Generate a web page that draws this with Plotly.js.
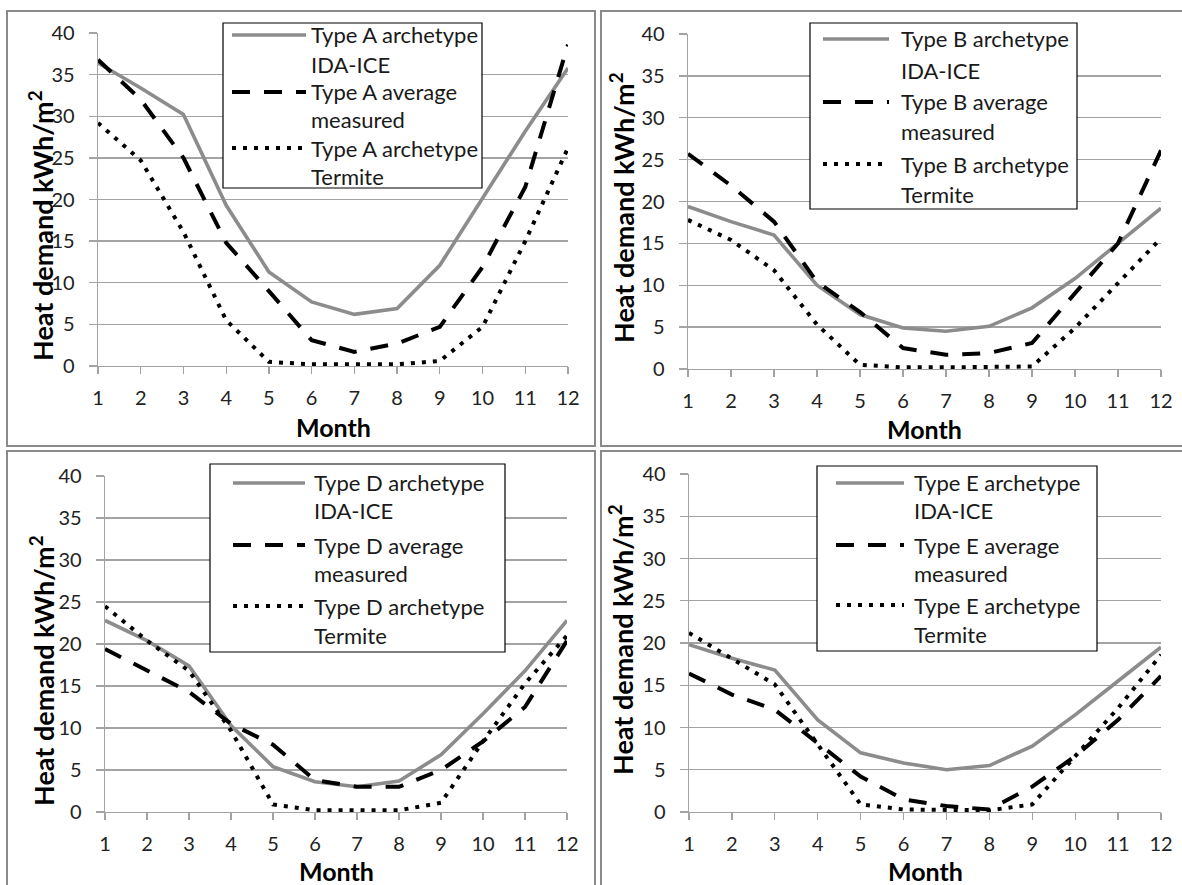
<!DOCTYPE html>
<html>
<head>
<meta charset="utf-8">
<script src="https://cdn.plot.ly/plotly-3.0.1.min.js"></script>
<style>
html,body{margin:0;padding:0;background:#ffffff;}
#chart{width:1182px;height:885px;}
</style>
</head>
<body>
<div id="chart"></div>
<script>
// ---------- data ----------
const months = [1, 2, 3, 4, 5, 6, 7, 8, 9, 10, 11, 12];
const xTickLabels = ['1', '2', '3', '4', '5', '6', '7', '8', '9', '10', '11', '12'];
const yTickValues = [0, 5, 10, 15, 20, 25, 30, 35, 40];

const typeA_idaIce   = [36.4, 33.4, 30.2, 19.3, 11.3, 7.7, 6.2, 6.9, 12.1, 20.1, 28.2, 35.8];
const typeA_measured = [36.8, 32.0, 25.0, 14.8, 9.0, 3.1, 1.7, 2.7, 4.7, 11.9, 21.5, 38.6];
const typeA_termite  = [29.2, 24.7, 16.1, 5.5, 0.5, 0.2, 0.2, 0.2, 0.6, 4.7, 15.0, 26.2];

const typeB_idaIce   = [19.4, 17.6, 16.0, 10.0, 6.5, 4.9, 4.5, 5.1, 7.3, 10.8, 15.0, 19.2];
const typeB_measured = [25.7, 21.9, 17.6, 10.4, 6.8, 2.5, 1.7, 1.9, 3.1, 9.0, 15.0, 26.1];
const typeB_termite  = [17.8, 15.4, 11.8, 5.3, 0.5, 0.2, 0.2, 0.2, 0.3, 4.9, 10.2, 15.6];

const typeD_idaIce   = [22.8, 20.4, 17.4, 10.3, 5.4, 3.6, 3.0, 3.7, 6.8, 11.7, 16.8, 22.8];
const typeD_measured = [19.4, 16.8, 14.3, 10.5, 8.0, 3.8, 3.0, 3.0, 5.0, 8.4, 12.5, 20.4];
const typeD_termite  = [24.5, 20.4, 16.8, 9.7, 0.9, 0.2, 0.2, 0.2, 1.1, 8.4, 15.3, 21.0];

const typeE_idaIce   = [19.8, 18.2, 16.8, 10.9, 7.0, 5.8, 5.0, 5.5, 7.8, 11.5, 15.5, 19.5];
const typeE_measured = [16.4, 13.9, 12.1, 8.2, 4.2, 1.5, 0.7, 0.3, 3.0, 6.6, 10.9, 16.1];
const typeE_termite  = [21.2, 18.2, 15.1, 8.0, 0.9, 0.3, 0.2, 0.2, 0.9, 6.6, 12.3, 18.6];

const legendA = ['Type A archetype', 'IDA-ICE', 'Type A average', 'measured', 'Type A archetype', 'Termite'];
const legendB = ['Type B archetype', 'IDA-ICE', 'Type B average', 'measured', 'Type B archetype', 'Termite'];
const legendD = ['Type D archetype', 'IDA-ICE', 'Type D average', 'measured', 'Type D archetype', 'Termite'];
const legendE = ['Type E archetype', 'IDA-ICE', 'Type E average', 'measured', 'Type E archetype', 'Termite'];

const xTitle = 'Month';
const yTitle = 'Heat demand kWh/m<sup>2</sup>';

// ---------- layout helpers ----------
const W = 1182, H = 885;
const px = x => x / W;
const py = y => 1 - y / H;

const styles = [
  {color: '#8c8c8c', width: 3.6, dash: 'solid'},
  {color: '#000000', width: 4, dash: '18px,14px'},
  {color: '#000000', width: 4, dash: '4px,7px'}
];

const panels = [
  {data: [typeA_idaIce, typeA_measured, typeA_termite], names: legendA,
   plot: {l: 98, r: 568, t: 33, b: 366}, border: [7, 11, 595, 446],
   leg: {l: 223, t: 23, r: 482, b: 188, s0: 232, s1: 306, tx: 309, rows: [35, 64, 92, 120, 148, 177]},
   ytitle: [41, 226], month: [333, 427]},
  {data: [typeB_idaIce, typeB_measured, typeB_termite], names: legendB,
   plot: {l: 688, r: 1161, t: 34, b: 369}, border: [601, 11, 1195, 446],
   leg: {l: 810, t: 23, r: 1077, b: 209, s0: 823, s1: 889, tx: 899, rows: [39, 70, 102, 131, 164, 195]},
   ytitle: [622, 207], month: [924, 429]},
  {data: [typeD_idaIce, typeD_measured, typeD_termite], names: legendD,
   plot: {l: 105, r: 567, t: 476, b: 812}, border: [7, 451, 595, 895],
   leg: {l: 210, t: 464, r: 505, b: 652, s0: 233, s1: 305, tx: 312, rows: [483, 511, 545, 573, 606, 635]},
   ytitle: [42, 671], month: [336, 871]},
  {data: [typeE_idaIce, typeE_measured, typeE_termite], names: legendE,
   plot: {l: 689, r: 1161, t: 474, b: 812}, border: [601, 451, 1195, 895],
   leg: {l: 817, t: 466, r: 1097, b: 651, s0: 836, s1: 904, tx: 912, rows: [483, 511, 545, 573, 605, 634]},
   ytitle: [621, 640], month: [925, 871]}
];

const FONT = 'Lato, "Open Sans", sans-serif';
const gridCol = '#a3a3a3';
const traces = [];
const shapes = [];
const annotations = [];
const layout = {
  width: W, height: H,
  margin: {l: 0, r: 0, t: 0, b: 0},
  paper_bgcolor: '#ffffff', plot_bgcolor: '#ffffff',
  showlegend: false,
  font: {family: FONT, color: '#262626'}
};

panels.forEach((p, i) => {
  const sfx = i === 0 ? '' : String(i + 1);
  layout['xaxis' + sfx] = {
    domain: [px(p.plot.l), px(p.plot.r)], range: [1, 12], anchor: 'y' + sfx,
    tickvals: months, ticktext: xTickLabels,
    ticks: 'outside', ticklen: 7, tickwidth: 1.3, tickcolor: gridCol,
    showgrid: false, showline: true, linecolor: gridCol, linewidth: 1.3, zeroline: false,
    tickfont: {family: FONT, size: 20, color: '#222222'}, ticklabelstandoff: 7, fixedrange: true
  };
  layout['yaxis' + sfx] = {
    domain: [py(p.plot.b), py(p.plot.t)], range: [0, 40], anchor: 'x' + sfx,
    tickvals: yTickValues,
    ticks: 'outside', ticklen: 8, tickwidth: 1.3, tickcolor: gridCol,
    showgrid: true, gridcolor: gridCol, gridwidth: 1.3,
    showline: true, linecolor: gridCol, linewidth: 1.3, zeroline: false,
    tickfont: {family: FONT, size: 20, color: '#222222'}, ticklabelstandoff: 10, fixedrange: true
  };
  p.data.forEach((vals, k) => {
    traces.push({
      type: 'scatter', mode: 'lines', x: months, y: vals,
      xaxis: 'x' + sfx, yaxis: 'y' + sfx,
      name: p.names[2 * k] + ' ' + p.names[2 * k + 1],
      line: {color: styles[k].color, width: styles[k].width, dash: styles[k].dash},
      cliponaxis: false, hoverinfo: 'skip'
    });
  });
  // panel border
  shapes.push({type: 'rect', xref: 'paper', yref: 'paper',
    x0: px(p.border[0]), x1: px(p.border[2]), y0: py(p.border[3]), y1: py(p.border[1]),
    line: {color: '#8a8a8a', width: 2}, fillcolor: 'rgba(0,0,0,0)', layer: 'below'});
  // legend box
  const L = p.leg;
  shapes.push({type: 'rect', xref: 'paper', yref: 'paper',
    x0: px(L.l), x1: px(L.r), y0: py(L.b), y1: py(L.t),
    line: {color: '#000000', width: 1.2}, fillcolor: '#ffffff', layer: 'above'});
  [0, 2, 4].forEach((row, k) => {
    shapes.push({type: 'line', xref: 'paper', yref: 'paper',
      x0: px(L.s0), x1: px(L.s1), y0: py(L.rows[row]), y1: py(L.rows[row]),
      line: {color: styles[k].color, width: styles[k].width, dash: styles[k].dash}, layer: 'above'});
  });
  L.rows.forEach((ry, r) => {
    annotations.push({xref: 'paper', yref: 'paper', x: px(L.tx), y: py(ry),
      xanchor: 'left', yanchor: 'middle', showarrow: false, text: p.names[r],
      font: {family: FONT, size: 22, color: '#1a1a1a'}});
  });
  // axis titles
  annotations.push({xref: 'paper', yref: 'paper', x: px(p.ytitle[0]), y: py(p.ytitle[1]),
    xanchor: 'center', yanchor: 'middle', showarrow: false, textangle: -90,
    text: '<b>' + yTitle + '</b>', font: {family: FONT, size: 27, color: '#000000'}});
  annotations.push({xref: 'paper', yref: 'paper', x: px(p.month[0]), y: py(p.month[1]),
    xanchor: 'center', yanchor: 'middle', showarrow: false,
    text: '<b>' + xTitle + '</b>', font: {family: FONT, size: 25, color: '#000000'}});
});

layout.shapes = shapes;
layout.annotations = annotations;

Plotly.newPlot('chart', traces, layout, {staticPlot: true, displayModeBar: false});
</script>
</body>
</html>
